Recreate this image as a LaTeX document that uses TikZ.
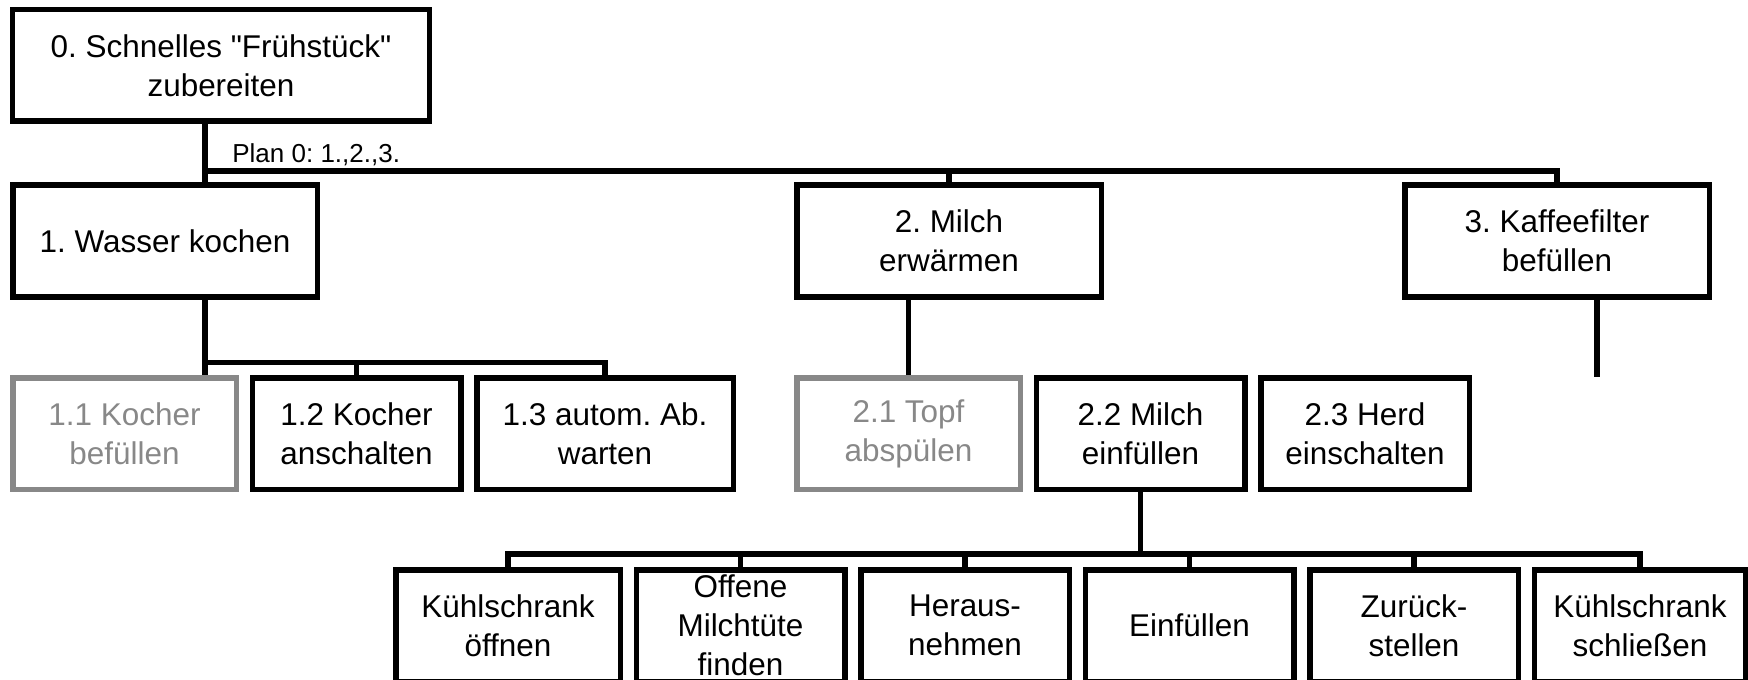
\documentclass[tikz,border=0pt]{standalone}
\usepackage{fontspec}
\setmainfont{Liberation Sans}[Ligatures=TeXOff]
\usepackage{xcolor}
\usepackage{tikz}
\usetikzlibrary{positioning}
\frenchspacing
\definecolor{mydark}{RGB}{0,0,0}
\definecolor{mygrey}{RGB}{136,136,136}
\tikzset{
  task/.style={rectangle,draw=mydark,line width=0.11cm,align=center,inner sep=0pt,
    minimum width=4.17cm,minimum height=2.23cm,font=\fontsize{17.9}{22.2}\selectfont},
  greytask/.style={task,draw=mygrey,text=mygrey},
  wtask/.style={task,minimum width=6.09cm,minimum height=2.24cm},
  conn/.style={line width=0.11cm,color=mydark}
}

\begin{document}
\begin{tikzpicture}
  \useasboundingbox (0,0) rectangle (34.96,-13.6);
  \node[task, minimum width=8.33cm] (root) at (4.42,-1.31) {0. Schnelles "Frühstück"\\zubereiten};
  \node[anchor=base west, inner sep=0pt, font=\fontsize{14.8}{17.8}\selectfont] (plan) at (4.64,-3.26) {Plan 0: 1.,2.,3.};

  \node[wtask] (water)  at (3.30,-4.82)  {1. Wasser kochen};
  \node[wtask] (milk)   at (18.98,-4.82) {2. Milch\\erwärmen};
  \node[wtask] (filter) at (31.14,-4.82) {3. Kaffeefilter\\befüllen};

  \node[greytask, minimum width=4.47cm] (fill) at (2.49,-8.67) {1.1 Kocher\\befüllen};
  \node[task, right=0.21cm of fill] (switch) {1.2 Kocher\\anschalten};
  \node[task, minimum width=5.13cm, right=0.21cm of switch] (wait) {1.3 autom. Ab.\\warten};
  \node[greytask, minimum width=4.47cm] (rinse) at (18.17,-8.67) {2.1 Topf\\abspülen};
  \node[task, right=0.21cm of rinse] (pour)  {2.2 Milch\\einfüllen};
  \node[task, right=0.21cm of pour]  (stove) {2.3 Herd\\einschalten};

  \node[task, minimum width=4.49cm] (open) at (10.16,-12.51) {Kühlschrank\\öffnen};
  \node[task, right=0.21cm of open]   (find)   {Offene\\Milchtüte\\finden};
  \node[task, right=0.21cm of find]   (take)   {Heraus-\\nehmen};
  \node[task, right=0.21cm of take]   (pourin) {Einfüllen};
  \node[task, right=0.21cm of pourin] (back)   {Zurück-\\stellen};
  \node[task, minimum width=4.23cm, right=0.21cm of back] (close) {Kühlschrank\\schließen};

  \coordinate (bar0)  at (4.10,-3.42);
  \coordinate (bar1)  at (4.10,-7.25);
  \coordinate (bar2)  at (22.82,-11.08);
  \coordinate (loose) at (31.94,-7.54);

  \draw[conn] (root.south -| bar0) -- (water.north -| bar0);
  \draw[conn] (bar0) -| (filter.north);
  \draw[conn] (milk.north) -- (milk.north |- bar0);
  \draw[conn] (water.south -| bar1) -- (fill.north -| bar1);
  \draw[conn] (bar1) -| (wait.north);
  \draw[conn] (switch.north) -- (switch.north |- bar1);
  \draw[conn] (milk.south -| rinse.north) -- (rinse.north);
  \draw[conn] (filter.south -| loose) -- (loose);
  \draw[conn] (pour.south) -- (pour.south |- bar2);
  \draw[conn] (open.north) |- (bar2) -| (close.north);
  \draw[conn] (find.north)   -- (find.north |- bar2);
  \draw[conn] (take.north)   -- (take.north |- bar2);
  \draw[conn] (pourin.north) -- (pourin.north |- bar2);
  \draw[conn] (back.north)   -- (back.north |- bar2);
\end{tikzpicture}
\end{document}
